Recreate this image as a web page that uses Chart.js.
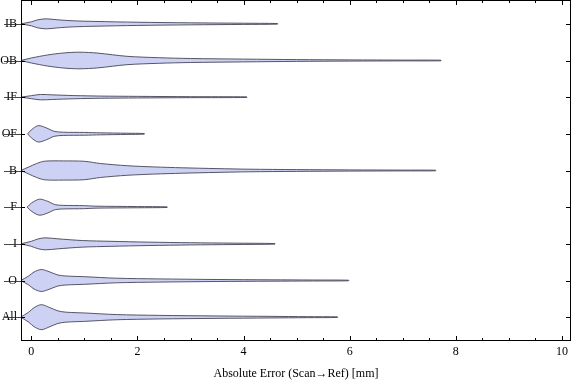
<!DOCTYPE html>
<html><head><meta charset="utf-8">
<script src="https://cdn.jsdelivr.net/npm/chart.js@4.4.1/dist/chart.umd.min.js"></script>
<style>html,body{margin:0;padding:0;background:#fff}#wrap{width:576px;height:381px}</style>
</head><body><div id="wrap"><canvas id="c" width="576" height="381"></canvas></div>
<script>
const categories = ["IB","OB","IF","OF","B","F","I","O","All"];
const xTicks = [0,2,4,6,8,10];

// x positions (mm) and relative half-widths (density) of each violin
const xIB  = [-0.2, 0, 0.12, 0.28, 0.5, 0.8, 1.2, 2, 3, 4, 4.64];
const wIB  = [0, 2, 4, 5, 4, 3, 2.4, 1.6, 1, 0.6, 0.3];
const xOB  = [-0.2, 0, 0.3, 0.6, 0.9, 1.25, 1.8, 2.4, 3, 4, 5, 6, 7, 7.72];
const wOB  = [0, 2.5, 5.5, 7.5, 8.3, 7.4, 4.2, 2.8, 2, 1.4, 0.9, 0.6, 0.4, 0.3];
const xIF  = [-0.2, 0, 0.17, 0.4, 0.8, 1.3, 2, 3, 4.06];
const wIF  = [0, 1.5, 2.7, 2.3, 1.6, 1.1, 0.8, 0.5, 0.3];
const xOF  = [-0.07, 0, 0.13, 0.28, 0.43, 0.6, 1.0, 1.3, 1.8, 2.13];
const wOF  = [0, 4, 8.2, 6, 2.5, 1.6, 1.4, 1.0, 0.6, 0.3];
const xB   = [-0.2, -0.05, 0.1, 0.25, 0.6, 1.0, 1.3, 1.8, 2.3, 2.85, 3.5, 4.1, 5, 6, 7, 7.62];
const wB   = [0, 3.5, 7, 9.3, 9.6, 9.2, 7, 4.8, 3.6, 2.7, 1.9, 1.3, 0.9, 0.6, 0.4, 0.3];
const xF   = [-0.08, 0, 0.15, 0.3, 0.45, 0.6, 1.0, 1.2, 2, 2.56];
const wF   = [0, 4, 8, 6, 2.5, 1.8, 1.5, 1.0, 0.6, 0.3];
const xI   = [-0.2, 0, 0.12, 0.26, 0.5, 0.96, 1.5, 2.2, 3, 3.8, 4.59];
const wI   = [0, 2.5, 4.8, 6, 5, 3.3, 2.5, 1.7, 1.1, 0.7, 0.3];
const xO   = [-0.2, -0.05, 0.05, 0.19, 0.35, 0.5, 0.65, 1, 1.6, 2.4, 3.5, 4.5, 5.3, 5.98];
const wO   = [0, 4.5, 8.5, 11, 8.5, 5.5, 4.5, 3.8, 2.3, 1.6, 1.0, 0.7, 0.5, 0.3];
const xAll = [-0.2, -0.05, 0.05, 0.19, 0.35, 0.5, 0.65, 1, 1.6, 2.4, 3.5, 4.5, 5.2, 5.77];
const wAll = [0, 5, 9.5, 12.5, 9.5, 6.3, 5, 4.2, 2.6, 1.8, 1.2, 0.8, 0.5, 0.3];

const violinX = [xIB, xOB, xIF, xOF, xB, xF, xI, xO, xAll];
const violinW = [wIB, wOB, wIF, wOF, wB, wF, wI, wO, wAll];

const WIDTH_SCALE = 1 / 36.67; // density units -> category units
const FONT = "'Liberation Serif','Times New Roman',serif";
const n = categories.length;
const posOf = i => n - i;

const datasets = categories.map((c, i) => {
  const xs = violinX[i], ws = violinW[i], p = posOf(i);
  const upper = xs.map((x, j) => ({x, y: p + ws[j] * WIDTH_SCALE}));
  const lower = xs.map((x, j) => ({x, y: p - ws[j] * WIDTH_SCALE})).reverse();
  return {
    label: c,
    data: upper.concat(lower),
    showLine: true,
    pointRadius: 0,
    borderColor: 'rgba(70,70,85,0.9)',
    borderWidth: 1,
    backgroundColor: '#cdd1f4',
    fill: 'shape',
    tension: 0.3
  };
});

const framePlugin = {
  id: 'frame',
  afterDraw(chart) {
    const {ctx, chartArea: a, scales: {x, y}} = chart;
    ctx.save();
    ctx.strokeStyle = '#000';
    ctx.lineWidth = 1;
    ctx.strokeRect(a.left + 0.5, a.top + 0.5, a.right - a.left - 1, a.bottom - a.top - 1);
    ctx.beginPath();
    for (let v = 0; v <= 10.001; v += 0.5) {
      const px = Math.round(x.getPixelForValue(v)) + 0.5;
      const L = Math.abs(v - Math.round(v / 2) * 2) < 1e-6 ? 5 : 3;
      ctx.moveTo(px, a.bottom); ctx.lineTo(px, a.bottom - L);
      ctx.moveTo(px, a.top); ctx.lineTo(px, a.top + L);
    }
    categories.forEach((c, i) => {
      const py = Math.round(y.getPixelForValue(posOf(i))) + 0.5;
      ctx.moveTo(a.right, py); ctx.lineTo(a.right - 5, py);
      ctx.moveTo(a.left + 4, py); ctx.lineTo(a.left, py);
    });
    ctx.stroke();
    ctx.strokeStyle = 'rgba(40,40,40,0.85)';
    ctx.beginPath();
    categories.forEach((c, i) => {
      const py = Math.round(y.getPixelForValue(posOf(i))) + 0.5;
      ctx.moveTo(a.left, py); ctx.lineTo(a.left - 17, py);
    });
    ctx.stroke();
    ctx.restore();
  }
};

new Chart(document.getElementById('c'), {
  type: 'scatter',
  data: {datasets},
  options: {
    responsive: false,
    animation: false,
    devicePixelRatio: 1,
    layout: {padding: {top: 0, right: 5, left: 0, bottom: 0}},
    plugins: {legend: {display: false}, tooltip: {enabled: false}},
    scales: {
      x: {
        type: 'linear', min: -0.195, max: 10.17,
        grid: {display: false, drawTicks: false},
        border: {display: false},
        afterBuildTicks: s => { s.ticks = xTicks.map(v => ({value: v})); },
        afterFit: s => { s.height = 40; s.paddingLeft = 0; s.paddingRight = 0; },
        ticks: {color: '#000', font: {family: FONT, size: 12}, padding: 4, maxRotation: 0},
        title: {display: true, text: 'Absolute Error (Scan\u2192Ref) [mm]', color: '#000',
                font: {family: FONT, size: 12}, padding: {top: 4, bottom: 0}}
      },
      y: {
        type: 'linear', min: 0.35, max: 9.65,
        grid: {display: false, drawTicks: false},
        border: {display: false},
        afterBuildTicks: s => { s.ticks = categories.map((c, i) => ({value: posOf(i)})); },
        afterFit: s => { s.width = 21; s.paddingTop = 0; s.paddingBottom = 0; },
        ticks: {color: '#000', font: {family: FONT, size: 12}, padding: 4,
                callback: v => categories[n - v]}
      }
    }
  },
  plugins: [framePlugin]
});
</script></body></html>
